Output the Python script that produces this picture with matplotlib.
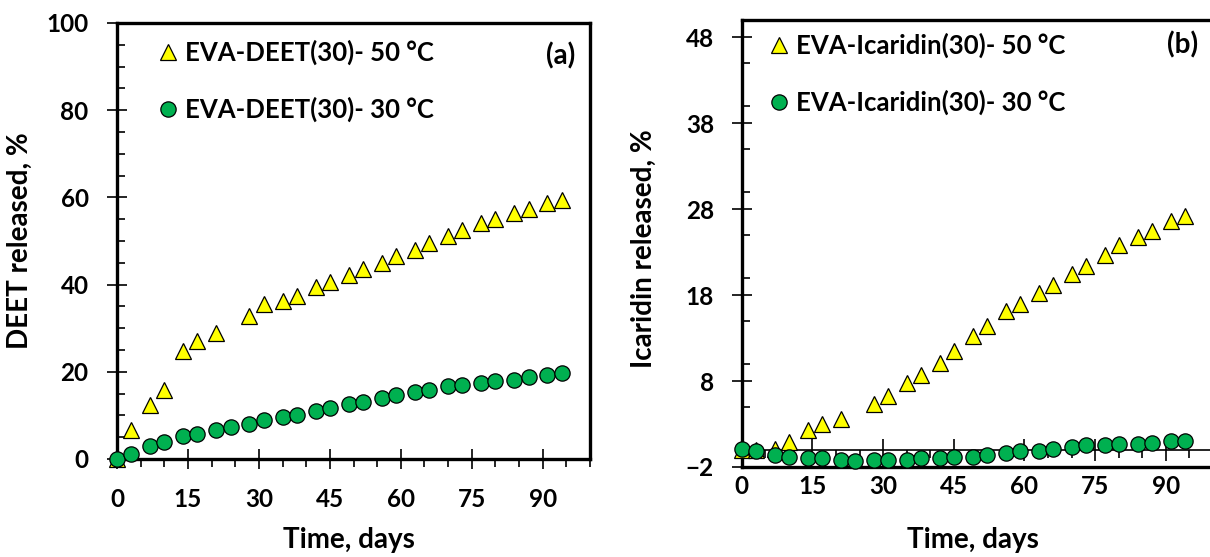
import matplotlib
matplotlib.use("Agg")
import matplotlib.pyplot as plt
from matplotlib.ticker import MultipleLocator

plt.rcParams['font.family'] = ['Lato', 'DejaVu Sans']
plt.rcParams['font.weight'] = 'bold'

# ---------------- data ----------------
days_a50 = [0, 3, 7, 10, 14, 17, 21, 28, 31, 35, 38, 42, 45, 49, 52, 56, 59,
            63, 66, 70, 73, 77, 80, 84, 87, 91, 94]
deet_50 = [0, 6.7, 12.5, 15.9, 24.7, 27.0, 28.9, 32.7, 35.6, 36.2, 37.5, 39.4,
           40.7, 42.3, 43.6, 45.0, 46.5, 48.0, 49.5, 51.2, 52.6, 54.1, 55.0,
           56.4, 57.3, 58.7, 59.3]
days_30 = [0, 3, 7, 10, 14, 17, 21, 24, 28, 31, 35, 38, 42, 45, 49, 52, 56,
           59, 63, 66, 70, 73, 77, 80, 84, 87, 91, 94]
deet_30 = [0, 1.2, 2.9, 3.9, 5.2, 5.7, 6.6, 7.3, 8.0, 8.9, 9.6, 10.2, 11.1,
           11.7, 12.7, 13.1, 14.0, 14.6, 15.3, 15.9, 16.7, 16.9, 17.4, 17.8,
           18.2, 18.8, 19.3, 19.7]

icar_50 = [0, 0, 0.05, 0.95, 2.26, 2.96, 3.54, 5.36, 6.26, 7.8, 8.7, 10.05,
           11.5, 13.2, 14.4, 16.1, 17.0, 18.2, 19.2, 20.5, 21.4, 22.7, 23.8,
           24.7, 25.4, 26.6, 27.2]
icar_30 = [0.05, -0.14, -0.6, -0.8, -1.0, -1.0, -1.15, -1.3, -1.2, -1.2, -1.2,
           -1.0, -1.0, -0.8, -0.8, -0.6, -0.33, -0.14, -0.14, 0.05, 0.36,
           0.52, 0.52, 0.71, 0.71, 0.83, 1.02, 1.02]

labels_a = ['EVA-DEET(30)- 50 °C', 'EVA-DEET(30)- 30 °C']
labels_b = ['EVA-Icaridin(30)- 50 °C', 'EVA-Icaridin(30)- 30 °C']
xticks = [0, 15, 30, 45, 60, 75, 90]
yticks_a = [0, 20, 40, 60, 80, 100]
yticks_b = [-2, 8, 18, 28, 38, 48]

YELLOW = '#FFFF00'
GREEN = '#00B050'

fig = plt.figure(figsize=(12.10, 5.57), dpi=100)
W, H = 1210, 557


def add_axes_px(l, r, t, b):
    return fig.add_axes([l / W, 1 - b / H, (r - l) / W, (b - t) / H])


def style_common(ax):
    for s in ax.spines.values():
        s.set_linewidth(2.4)
        s.set_color('black')
    ax.tick_params(labelsize=17.5, width=1.2, colors='black')
    for lab in ax.get_xticklabels() + ax.get_yticklabels():
        lab.set_fontweight('bold')


def plot_series(ax, x50, y50, x30, y30, labels):
    ax.plot(x50, y50, linestyle='none', marker='^', ms=11.5, mfc=YELLOW,
            mec='black', mew=0.9, label=labels[0], clip_on=False, zorder=3)
    ax.plot(x30, y30, linestyle='none', marker='o', ms=11, mfc=GREEN,
            mec='black', mew=0.9, label=labels[1], clip_on=False, zorder=4)


LEG = dict(loc='upper left', frameon=False, handlelength=0.9,
           handletextpad=0.22, labelspacing=1.23, borderpad=0,
           borderaxespad=0, numpoints=1,
           prop={'weight': 'bold', 'size': 18.5})

# ---------------- panel (a) ----------------
axa = add_axes_px(117, 590, 23, 459)
plot_series(axa, days_a50, deet_50, days_30, deet_30, labels_a)
axa.set_xlim(0, 100)
axa.set_ylim(0, 100)
axa.set_xticks(xticks)
axa.set_yticks(yticks_a)
axa.xaxis.set_minor_locator(MultipleLocator(5))
axa.yaxis.set_minor_locator(MultipleLocator(5))
style_common(axa)
axa.tick_params(axis='x', which='major', direction='inout', length=14, pad=14)
axa.tick_params(axis='x', which='minor', direction='out', length=5.5, width=1.2)
axa.tick_params(axis='y', which='major', direction='inout', length=15, pad=13)
axa.tick_params(axis='y', which='minor', direction='in', length=6, width=1.2)
axa.set_xlabel('Time, days', fontsize=20, fontweight='bold')
axa.set_ylabel('DEET released, %', fontsize=20, fontweight='bold')
axa.xaxis.set_label_coords(0.49, -0.156)
axa.yaxis.set_label_coords(-0.178, 0.5)
axa.text(0.968, 0.925, '(a)', transform=axa.transAxes, fontsize=20,
         fontweight='bold', ha='right', va='center')
axa.legend(bbox_to_anchor=(0.083, 0.962), **LEG)

# ---------------- panel (b) ----------------
axb = add_axes_px(741.7, 1213, 20, 467)
plot_series(axb, days_a50, icar_50, days_30, icar_30, labels_b)
axb.set_xlim(0, 100)
axb.set_ylim(-2, 50)
axb.set_xticks(xticks)
axb.set_yticks(yticks_b)
axb.yaxis.set_minor_locator(MultipleLocator(5))
style_common(axb)
axb.tick_params(axis='x', which='both', length=0, pad=6)
axb.tick_params(axis='y', which='major', direction='inout', length=14, pad=13)
axb.tick_params(axis='y', which='minor', direction='in', length=6, width=1.2)
axb.set_xlabel('Time, days', fontsize=20, fontweight='bold')
axb.set_ylabel('Icaridin released, %', fontsize=20, fontweight='bold')
axb.xaxis.set_label_coords(0.49, -0.134)
axb.yaxis.set_label_coords(-0.18, 0.488)
axb.text(0.968, 0.944, '(b)', transform=axb.transAxes, fontsize=20,
         fontweight='bold', ha='right', va='center')
axb.legend(bbox_to_anchor=(0.0545, 0.972), **LEG)

# horizontal axis line crossing at y = 0
sec = axb.secondary_xaxis(0, transform=axb.transData)
sec.set_xticks(xticks)
sec.xaxis.set_minor_locator(MultipleLocator(5))
sec.tick_params(axis='x', which='major', direction='inout', length=16,
                width=1.2, labelbottom=False)
sec.tick_params(axis='x', which='minor', direction='out', length=5.5,
                width=1.2)
sec.set_xticklabels([])
sec.spines['bottom'].set_linewidth(1.2)

fig.savefig('out.png', dpi=100)
